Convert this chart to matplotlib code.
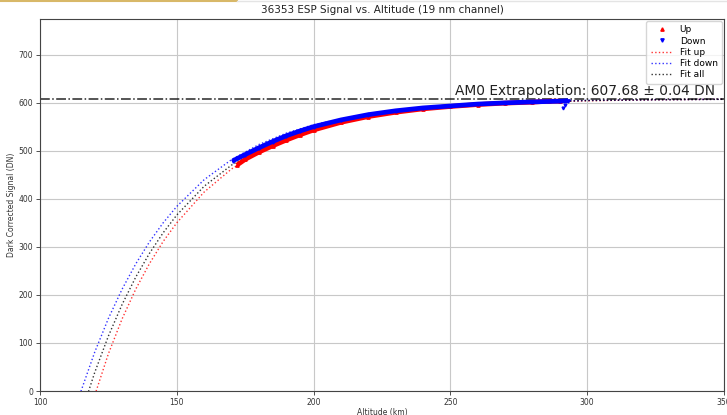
import matplotlib
matplotlib.use("Agg")
import matplotlib.pyplot as plt
from matplotlib.lines import Line2D

# ---- data ----
alt_up = [172, 175, 180, 185, 190, 195, 200, 210, 220, 230, 240, 250, 260, 270, 280, 286, 290]
sig_up = [470, 482, 497, 510, 522, 533, 543, 559, 571, 580, 587, 592, 596, 599, 601, 603, 603]

alt_down = [170.5, 175, 180, 185, 190, 195, 200, 210, 220, 230, 240, 250, 260, 270, 280, 290, 293]
sig_down = [479, 492, 506, 519, 531, 541, 550, 564, 575, 583, 589, 593, 597, 599.5, 601.5, 603, 604]

alt_down_out = [291.2, 292.0]
sig_down_out = [588, 595]

fit_alt = [110, 115, 120, 125, 130, 135, 140, 145, 150, 160, 170, 180, 190, 200, 220, 240, 260, 280, 300, 325, 350]
fit_up = [-250, -110, -9.2, 77.5, 150.0, 212.0, 265.0, 311.0, 350.0, 414.0, 462.0, 497.0, 524.0, 545.0,
          571.0, 586.0, 595.0, 600.5, 603.8, 606.0, 607.0]
fit_down = [-93.3, 0, 80.9, 151.0, 211.8, 264.5, 310.2, 349.8, 384.1, 439.7, 481.4, 512.8, 536.4, 554.1,
            577.4, 590.6, 598.0, 602.2, 604.6, 606.2, 606.9]
fit_all = [-149.5, -48.7, 38.6, 114.4, 180.0, 237.0, 286.3, 329.1, 366.2, 426.0, 470.0, 504.0, 529.5, 549.0,
           574.5, 588.8, 597.0, 601.6, 604.3, 606.0, 606.9]

am0_value = 607.68
am0_err = 0.04

fig = plt.figure(figsize=(7.27, 4.15), dpi=100)
ax = fig.add_axes([40/727, 1 - 391/415, 684/727, 372/415])

# Up / Down data (dense bands)
ax.plot(alt_up, sig_up, color='red', lw=3.4, solid_capstyle='butt', zorder=3)
ax.plot(alt_up, sig_up, ls='none', marker='^', ms=2.4, color='red', zorder=3)
ax.plot(alt_down, sig_down, color='blue', lw=3.4, solid_capstyle='butt', zorder=4)
ax.plot(alt_down, sig_down, ls='none', marker='v', ms=2.4, color='blue', zorder=4)
ax.plot(alt_down_out, sig_down_out, ls='none', marker='v', ms=2, color='blue', zorder=4)

# Fits
ax.plot(fit_alt, fit_up, ls=':', color='red', lw=1, alpha=0.8, zorder=2)
ax.plot(fit_alt, fit_down, ls=':', color='blue', lw=1, alpha=0.8, zorder=2)
ax.plot(fit_alt, fit_all, ls=':', color='black', lw=1, alpha=0.8, zorder=2)

ax.axhline(am0_value, color='black', ls='-.', lw=1.1, alpha=0.85, zorder=2)
ax.text(251.5, 615, f"AM0 Extrapolation: {am0_value:.2f} \u00b1 {am0_err:.2f} DN",
        fontsize=9.9, color='#222222')

ax.set_xlim(100, 350)
ax.set_ylim(0, 774)
ax.set_xticks([100, 150, 200, 250, 300, 350])
ax.set_yticks([0, 100, 200, 300, 400, 500, 600, 700])
ax.grid(True, color='#c8c8c8', lw=0.8)
ax.tick_params(labelsize=5.5, colors='#333333', length=3, width=0.6, pad=2)
for s in ax.spines.values():
    s.set_color('#444444')
    s.set_linewidth(0.8)

ax.set_title("36353 ESP Signal vs. Altitude (19 nm channel)", fontsize=7.5, color='#222222', pad=4)
ax.set_xlabel("Altitude (km)", fontsize=5.5, color='#333333', labelpad=1)
ax.set_ylabel("Dark Corrected Signal (DN)", fontsize=5.5, color='#333333', labelpad=2)

handles = [
    Line2D([], [], ls='none', marker='^', ms=2.4, color='red'),
    Line2D([], [], ls='none', marker='v', ms=2.4, color='blue'),
    Line2D([], [], ls=':', color='red', lw=1, alpha=0.8),
    Line2D([], [], ls=':', color='blue', lw=1, alpha=0.8),
    Line2D([], [], ls=':', color='black', lw=1, alpha=0.8),
]
ax.legend(handles, ["Up", "Down", "Fit up", "Fit down", "Fit all"], loc='upper right',
          fontsize=6.5, frameon=True, handlelength=2.4, borderpad=0.5, labelspacing=0.25,
          borderaxespad=0.2)

# top strip artifact
fig.add_artist(Line2D([0, 237/727], [0.998, 0.998], color='#d8b868', lw=1.5))
fig.add_artist(Line2D([237/727, 1], [0.998, 0.998], color='#e4e4e4', lw=1.0))

fig.savefig("out.png", dpi=100)
